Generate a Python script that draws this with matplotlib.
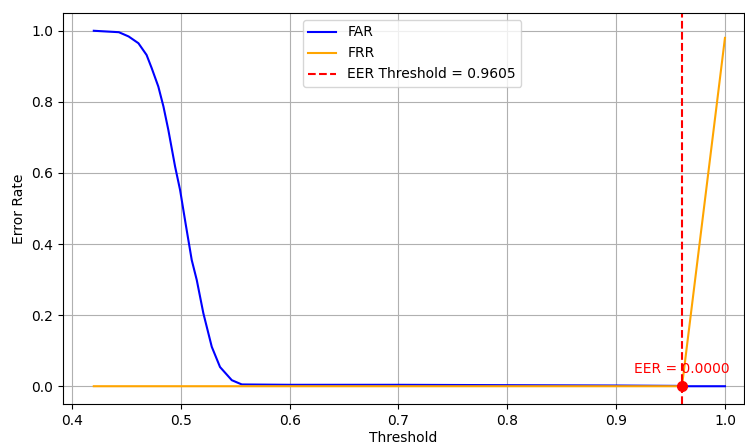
import numpy as np
import matplotlib
matplotlib.use("Agg")
import matplotlib.pyplot as plt

# FAR curve
far_thr = [0.420, 0.443, 0.452, 0.461, 0.4685, 0.4732, 0.4793, 0.484, 0.4885, 0.4947,
           0.4993, 0.5023, 0.5045, 0.510, 0.5146, 0.5207, 0.5284, 0.536, 0.5468, 0.556,
           0.60, 0.70, 0.80, 0.90, 0.955, 0.9605, 1.0]
far_val = [1.000, 0.996, 0.984, 0.965, 0.932, 0.895, 0.843, 0.787, 0.721, 0.618,
           0.552, 0.496, 0.455, 0.355, 0.299, 0.205, 0.111, 0.054, 0.017, 0.005,
           0.004, 0.004, 0.003, 0.002, 0.001, 0.0, 0.0]

# FRR curve
frr_thr = [0.420, 0.9605, 1.0]
frr_val = [0.0, 0.0, 0.98]

eer_threshold = 0.9605
eer_value = 0.0

fig = plt.figure(figsize=(7.45, 4.45), dpi=100)
ax = fig.add_axes([63/745, 1-404/445, (744-63)/745, (404-13)/445])
ax.plot(far_thr, far_val, color="blue", label="FAR")
ax.plot(frr_thr, frr_val, color="orange", label="FRR")
ax.axvline(eer_threshold, color="red", linestyle="--", label=f"EER Threshold = {eer_threshold:.4f}")
ax.plot(eer_threshold, eer_value, "o", color="red", markersize=7)
ax.text(eer_threshold, eer_value + 0.03, f"EER = {eer_value:.4f}", color="red",
        ha="center", va="bottom")
ax.set_xlim(0.3917, 1.0175)
ax.set_ylim(-0.05, 1.05)
ax.set_xlabel("Threshold", labelpad=2)
ax.set_ylabel("Error Rate")
ax.grid(True)
ax.legend(loc="upper left", bbox_to_anchor=(0.342, 1.0))
fig.savefig("out.png", dpi=100)
